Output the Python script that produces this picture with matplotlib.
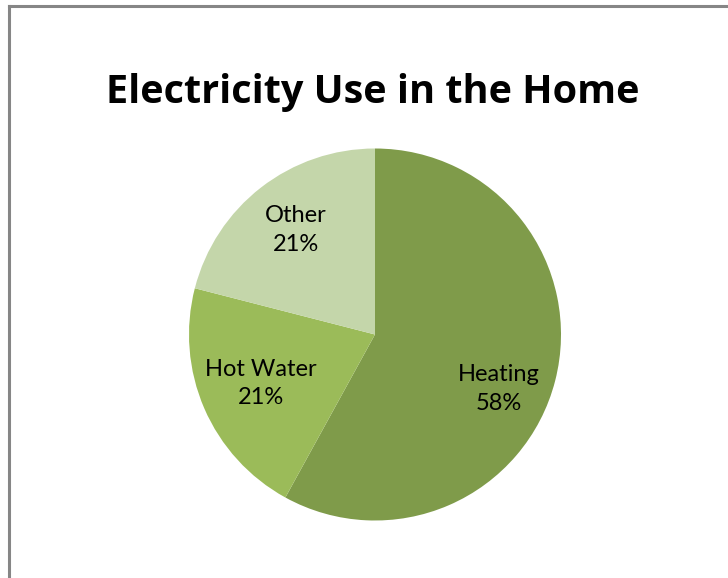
import matplotlib.pyplot as plt
from matplotlib.lines import Line2D

labels = ["Heating", "Hot Water", "Other"]
shares = [58, 21, 21]
colors = ["#7f9b4a", "#9bbb59", "#c4d6aa"]

# label anchor points (fraction of radius)
label_pos = [(0.664, -0.293), (-0.613, -0.263), (-0.425, 0.562)]

W, H = 728, 578
fig = plt.figure(figsize=(W / 100, H / 100), dpi=100)

cx, cy, r = 375, 334.5, 186
ax = fig.add_axes([(cx - r) / W, (H - cy - r) / H, 2 * r / W, 2 * r / H])
wedges, _ = ax.pie(shares, colors=colors, startangle=90, counterclock=False,
                   radius=1, wedgeprops=dict(linewidth=0))
ax.set_xlim(-1, 1)
ax.set_ylim(-1, 1)
ax.set_aspect("equal")
ax.axis("off")

for name, val, (x, y) in zip(labels, shares, label_pos):
    ax.text(x, y, f"{name}\n{val}%", ha="center", va="center",
            fontsize=17, family="Lato", color="#000000", linespacing=1.45)

fig.text(373 / W, 1 - 103 / H, "Electricity Use in the Home", ha="center",
         va="baseline", fontsize=28.5, fontweight="bold", family="Open Sans")

# chart frame (runs off the right and bottom edges)
fig.add_artist(Line2D([8.5 / W, 8.5 / W], [0, 1 - 5.5 / H], color="#868686", lw=2.2,
                      transform=fig.transFigure, solid_capstyle="projecting"))
fig.add_artist(Line2D([8.5 / W, 1], [1 - 5.5 / H, 1 - 5.5 / H], color="#868686", lw=2.2,
                      transform=fig.transFigure, solid_capstyle="projecting"))

fig.savefig("out.png", dpi=100)
